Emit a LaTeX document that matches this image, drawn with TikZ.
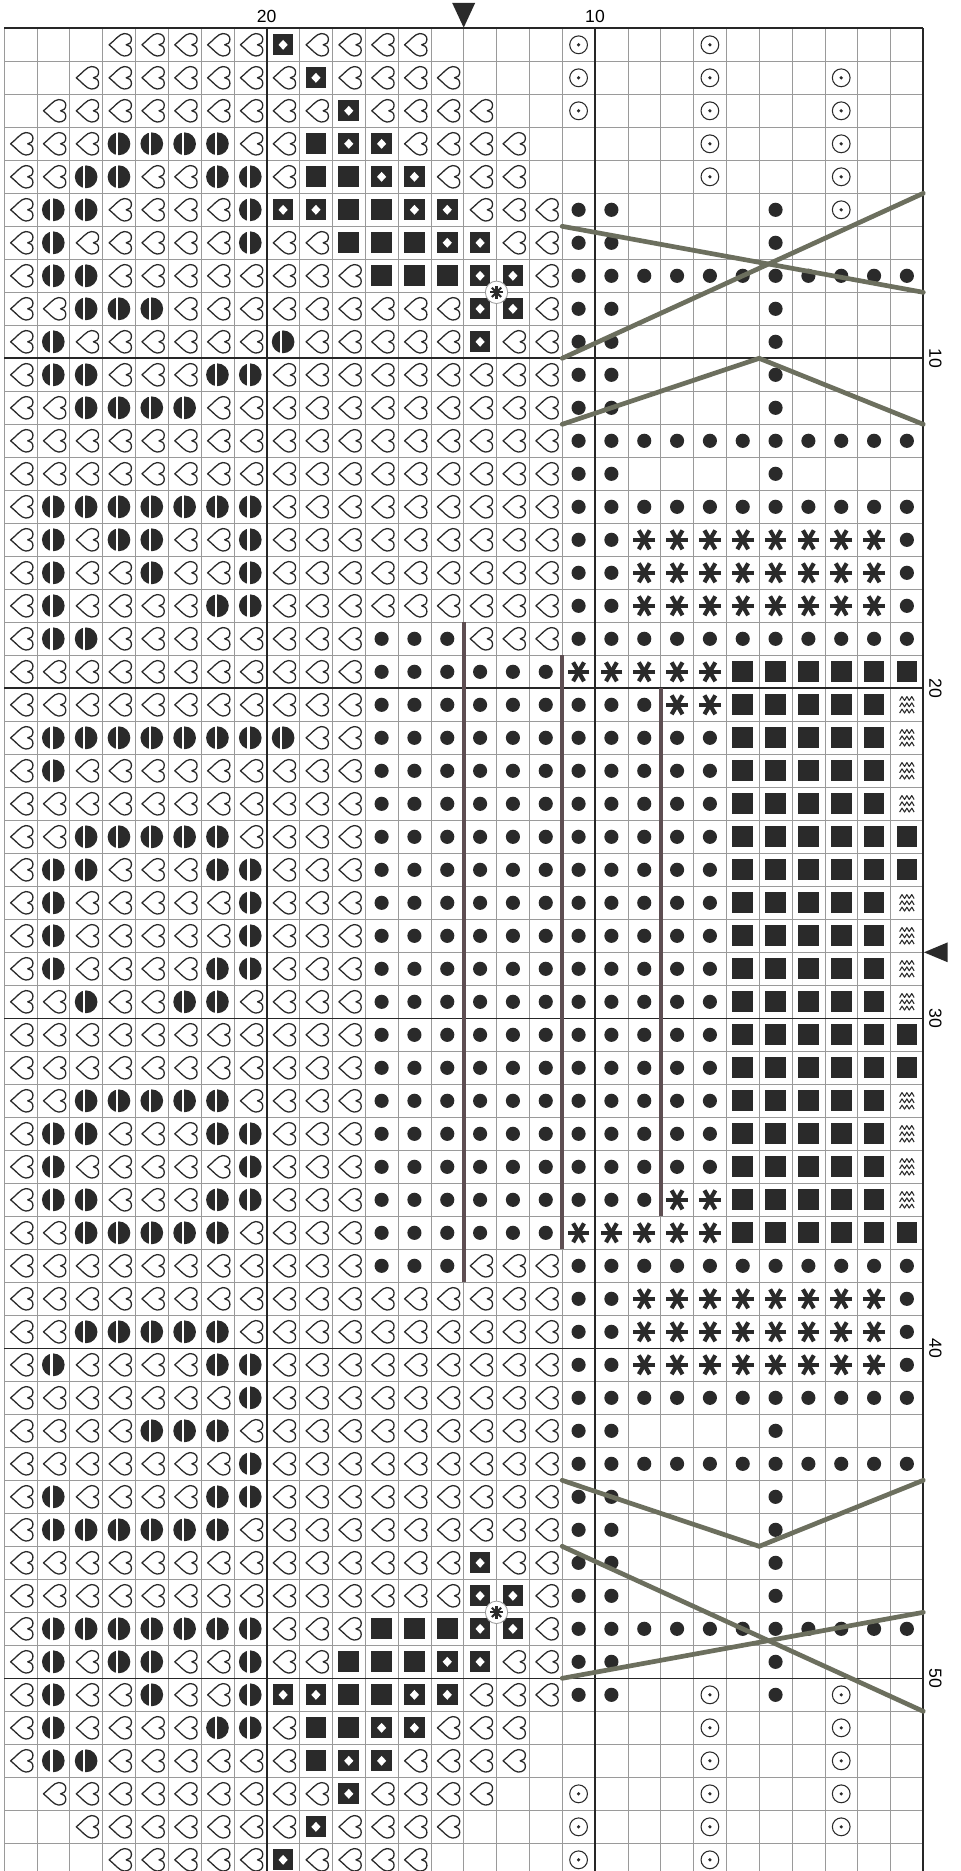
\documentclass[tikz,border=0pt]{standalone}
\usepackage{fontspec}
\newfontfamily\chartfont{Liberation Sans}

\definecolor{ink}{HTML}{2A2A2A}
\definecolor{gridgrey}{HTML}{9A9A9A}
\definecolor{stitchgreen}{HTML}{6C6F5E}
\definecolor{stitchbrown}{HTML}{5E4E52}

% one chart row: #1 row number, #2 one letter per cell
\makeatletter
\newcommand\chartrow[2]{%
    \def\colno{0}%
    \@tfor\cellsym:=#2\do{%
        \pgfmathtruncatemacro\colno{\colno+1}%
        \if h\cellsym \pic at (\colno-0.5,#1-0.5) {heartsym};\fi
        \if b\cellsym \pic at (\colno-0.5,#1-0.5) {halfdisc};\fi
        \if q\cellsym \pic at (\colno-0.5,#1-0.5) {blksq};\fi
        \if d\cellsym \pic at (\colno-0.5,#1-0.5) {dmdsq};\fi
        \if o\cellsym \pic at (\colno-0.5,#1-0.5) {dotsym};\fi
        \if c\cellsym \pic at (\colno-0.5,#1-0.5) {ringdot};\fi
        \if a\cellsym \pic at (\colno-0.5,#1-0.5) {starsym};\fi
        \if w\cellsym \pic at (\colno-0.5,#1-0.5) {wavesym};\fi
    }%
}
\makeatother

\begin{document}
\begin{tikzpicture}[
        x=0.9849cm,
        y=-0.99cm,
        thingrid/.style={draw=gridgrey, line width=0.5pt},
        thickgrid/.style={draw=black!85, line width=1.4pt},
        backstitch/.style={draw=stitchgreen, line width=4pt, line cap=round},
        couching/.style={draw=stitchbrown, line width=3.6pt},
        collabel/.style={
            inner sep=0pt,
            font=\chartfont\fontsize{15}{17}\selectfont
        },
        rowlabel/.style={
            inner sep=0pt,
            rotate=-90,
            font=\chartfont\fontsize{15}{17}\selectfont
        },
        heartsym/.pic={
            \draw[ink, line width=1.1pt, line join=round]
                (-0.30,0) .. controls (-0.14,0.12) and (0.02,0.34) .. (0.16,0.34)
                .. controls (0.31,0.34) and (0.38,0.26) .. (0.38,0.17)
                .. controls (0.38,0.07) and (0.31,0) .. (0.22,0)
                .. controls (0.31,0) and (0.38,-0.07) .. (0.38,-0.17)
                .. controls (0.38,-0.26) and (0.31,-0.34) .. (0.16,-0.34)
                .. controls (0.02,-0.34) and (-0.14,-0.12) .. (-0.30,0) -- cycle;
        },
        halfdisc/.pic={
            \fill[ink] (0,0) circle (0.345);
            \fill[white] (-0.09,-0.37) rectangle (-0.02,0.37);
        },
        blksq/.pic={
            \fill[ink] (-0.315,-0.315) rectangle (0.315,0.315);
        },
        dmdsq/.pic={
            \fill[ink] (-0.315,-0.315) rectangle (0.315,0.315);
            \fill[white] (0,-0.15) -- (0.14,0) -- (0,0.15) -- (-0.14,0) -- cycle;
        },
        dotsym/.pic={
            \fill[ink] (0,0) circle (0.215);
        },
        ringdot/.pic={
            \draw[ink, line width=0.9pt] (0,0) circle (0.27);
            \fill[ink] (0,0) circle (0.055);
        },
        starsym/.pic={
            \fill[ink] (0,0) circle (0.1);
            \foreach \arm in {0,60,120}
                \draw[ink, line width=3.6pt] (\arm:0.33) -- (\arm+180:0.33);
        },
        wavesym/.pic={
            \foreach \wy in {-0.19,0,0.19}
                \draw[ink, line width=0.9pt, line join=round]
                    (-0.22,\wy+0.06) -- (-0.15,\wy-0.06) -- (-0.07,\wy+0.06)
                    -- (0,\wy-0.06) -- (0.07,\wy+0.06) -- (0.15,\wy-0.06)
                    -- (0.22,\wy+0.06);
        },
        circstar/.pic={
            \filldraw[fill=white, draw=gridgrey, line width=0.7pt] (0,0) circle (0.34);
            \foreach \arm in {0,45,90,135}
                \draw[ink, line width=1.8pt] (\arm:0.2) -- (\arm+180:0.2);
        }
    ]

    \fill[white] (-0.1237,-0.8576) rectangle (29.148,55.839);
    \useasboundingbox (-0.1237,-0.8576) rectangle (29.148,55.839);

    % grid
    \foreach \gx in {0,...,28}
        \draw[thingrid] (\gx,0) -- (\gx,56);
    \foreach \gy in {0,...,56}
        \draw[thingrid] (0,\gy) -- (28,\gy);
    \foreach \gx in {8,18,28}
        \draw[thickgrid] (\gx,0) -- (\gx,56);
    \foreach \gy in {0,10,20,30,40,50}
        \draw[thickgrid] (0,\gy) -- (28,\gy);

    % cells
    \chartrow{1}{...hhhhhdh hhh....c.. .c......}
    \chartrow{2}{..hhhhhhhd hhhh...c.. .c...c..}
    \chartrow{3}{.hhhhhhhhh dhhhh..c.. .c...c..}
    \chartrow{4}{hhhbbbbhhq ddhhhh.... .c...c..}
    \chartrow{5}{hhbbhhbbhq qddhhh.... .c...c..}
    \chartrow{6}{hbbhhhhbdd qqddhhhoo. ...o.c..}
    \chartrow{7}{hbhhhhhbhh qqqddhhoo. ...o....}
    \chartrow{8}{hbbhhhhhhh hqqqddhooo oooooooo}
    \chartrow{9}{hhbbbhhhhh hhhhddhoo. ...o....}
    \chartrow{10}{hbhhhhhhbh hhhhdhhoo. ...o....}
    \chartrow{11}{hbbhhhbbhh hhhhhhhoo. ...o....}
    \chartrow{12}{hhbbbbhhhh hhhhhhhoo. ...o....}
    \chartrow{13}{hhhhhhhhhh hhhhhhhooo oooooooo}
    \chartrow{14}{hhhhhhhhhh hhhhhhhoo. ...o....}
    \chartrow{15}{hbbbbbbbhh hhhhhhhooo oooooooo}
    \chartrow{16}{hbhbbhhbhh hhhhhhhooa aaaaaaao}
    \chartrow{17}{hbhhbhhbhh hhhhhhhooa aaaaaaao}
    \chartrow{18}{hbhhhhbbhh hhhhhhhooa aaaaaaao}
    \chartrow{19}{hbbhhhhhhh hooohhhooo oooooooo}
    \chartrow{20}{hhhhhhhhhh hooooooaaa aaqqqqqq}
    \chartrow{21}{hhhhhhhhhh hooooooooo aaqqqqqw}
    \chartrow{22}{hbbbbbbbbh hooooooooo ooqqqqqw}
    \chartrow{23}{hbhhhhhhhh hooooooooo ooqqqqqw}
    \chartrow{24}{hhhhhhhhhh hooooooooo ooqqqqqw}
    \chartrow{25}{hhbbbbbhhh hooooooooo ooqqqqqq}
    \chartrow{26}{hbbhhhbbhh hooooooooo ooqqqqqq}
    \chartrow{27}{hbhhhhhbhh hooooooooo ooqqqqqw}
    \chartrow{28}{hbhhhhhbhh hooooooooo ooqqqqqw}
    \chartrow{29}{hbhhhhbbhh hooooooooo ooqqqqqw}
    \chartrow{30}{hhbhhbbhhh hooooooooo ooqqqqqw}
    \chartrow{31}{hhhhhhhhhh hooooooooo ooqqqqqq}
    \chartrow{32}{hhhhhhhhhh hooooooooo ooqqqqqq}
    \chartrow{33}{hhbbbbbhhh hooooooooo ooqqqqqw}
    \chartrow{34}{hbbhhhbbhh hooooooooo ooqqqqqw}
    \chartrow{35}{hbhhhhhbhh hooooooooo ooqqqqqw}
    \chartrow{36}{hbbhhhbbhh hooooooooo aaqqqqqw}
    \chartrow{37}{hhbbbbbhhh hooooooaaa aaqqqqqq}
    \chartrow{38}{hhhhhhhhhh hooohhhooo oooooooo}
    \chartrow{39}{hhhhhhhhhh hhhhhhhooa aaaaaaao}
    \chartrow{40}{hhbbbbbhhh hhhhhhhooa aaaaaaao}
    \chartrow{41}{hbhhhhbbhh hhhhhhhooa aaaaaaao}
    \chartrow{42}{hhhhhhhbhh hhhhhhhooo oooooooo}
    \chartrow{43}{hhhhbbbhhh hhhhhhhoo. ...o....}
    \chartrow{44}{hhhhhhhbhh hhhhhhhooo oooooooo}
    \chartrow{45}{hbhhhhbbhh hhhhhhhoo. ...o....}
    \chartrow{46}{hbbbbbbhhh hhhhhhhoo. ...o....}
    \chartrow{47}{hhhhhhhhhh hhhhdhhoo. ...o....}
    \chartrow{48}{hhhhhhhhhh hhhhddhoo. ...o....}
    \chartrow{49}{hbbbbbbbhh hqqqddhooo oooooooo}
    \chartrow{50}{hbhbbhhbhh qqqddhhoo. ...o....}
    \chartrow{51}{hbhhbhhbdd qqddhhhoo. .c.o.c..}
    \chartrow{52}{hbhhhhbbhq qddhhh.... .c...c..}
    \chartrow{53}{hbbhhhhhhq ddhhhh.... .c...c..}
    \chartrow{54}{.hhhhhhhhh dhhhh..c.. .c...c..}
    \chartrow{55}{..hhhhhhhd hhhh...c.. .c...c..}
    \chartrow{56}{...hhhhhdh hhh....c.. .c......}

    % backstitch and couched lines
    \draw[backstitch] (17,6) -- (28,8);
    \draw[backstitch] (17,10) -- (28,5);
    \draw[backstitch] (17,12) -- (23,10) -- (28,12);
    \draw[backstitch] (17,44) -- (23,46) -- (28,44);
    \draw[backstitch] (17,46) -- (28,51);
    \draw[backstitch] (17,50) -- (28,48);

    \draw[couching] (14,18) -- (14,38);
    \draw[couching] (17,19) -- (17,37);
    \draw[couching] (20,20) -- (20,36);

    \pic at (15,8) {circstar};
    \pic at (15,48) {circstar};

    % margins
    \node[collabel] (col20) at (8,-0.36) {20};
    \node[collabel] (col10) at (18,-0.36) {10};
    \foreach \rn in {10,20,30,40,50}
        \node[rowlabel] (row\rn) at (28.37,\rn) {\rn};

    \fill[ink] (13.65,-0.77) -- (14.35,-0.77) -- (14,-0.02) -- cycle;
    \fill[ink] (28.02,28) -- (28.74,27.7) -- (28.74,28.3) -- cycle;

\end{tikzpicture}
\end{document}
